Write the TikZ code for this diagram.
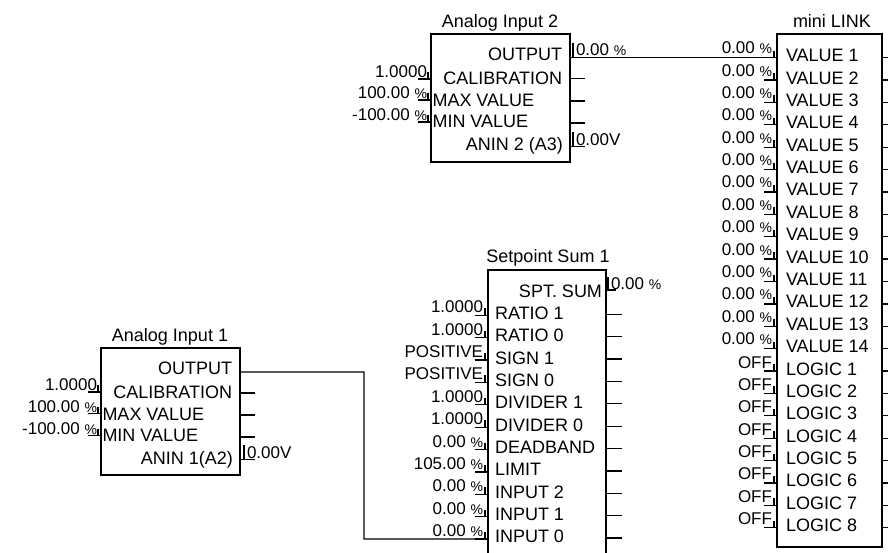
\documentclass[tikz,border=0pt]{standalone}
\usepackage{fontspec}
\setmainfont{Liberation Sans}
\newcommand{\mypct}{{\fontsize{14}{14}\selectfont\%}}
\tikzset{
  blk/.style={draw, line width=1.8pt, inner sep=0pt, outer sep=0pt, anchor=north west},
  wire/.style={line width=1.3pt},
  lbl/.style={inner sep=0pt, outer sep=0pt, font=\fontsize{18}{20}\selectfont},
  lblw/.style={lbl, anchor=base west},
  lble/.style={lbl, anchor=base east},
  ttl/.style={lbl, anchor=base},
  val/.style={inner sep=0pt, outer sep=0pt, font=\fontsize{17}{19}\selectfont, anchor=base east},
  outv/.style={inner sep=0pt, outer sep=0pt, font=\fontsize{17}{19}\selectfont, anchor=base west},
}
\begin{document}
\begin{tikzpicture}[x=1pt,y=-1pt]
\useasboundingbox (0,0) rectangle (888,552);
\fill[white] (0,0) rectangle (888,552);
\clip (0,0) rectangle (888,552);

% ---------- Analog Input 2 ----------
\begin{scope}[shift={(431,34)}]
  \node[blk, minimum width=139pt, minimum height=128pt] (ai2) at (0,0) {};
  \node[ttl] (ai2-t) at (69,-7) {Analog Input 2};
  \node[lble] (ai2-l0) at (131,26) {OUTPUT};
  \node[lble] (ai2-l1) at (131,50.5) {CALIBRATION};
  \node[lblw] (ai2-l2) at (1.5,72) {MAX VALUE};
  \node[lblw] (ai2-l3) at (1.5,93.5) {MIN VALUE};
  \node[lble] (ai2-l4) at (132,116) {ANIN 2 (A3)};
  \coordinate (ai2-out) at (139,23.7);
  \draw[wire] (142,9) -- (142,23.7);
  \node[outv] (ai2-v0) at (145,21.5) {0.00 \mypct};
  \foreach \p in {44.5,67,89,112.5} \draw[wire] (139,\p) -- (154,\p);
  \draw[wire] (142,98) -- (142,112.5);
  \node[outv] (ai2-v4) at (145,111) {0.00V};
  \foreach \p/\v [count=\k] in {45/1.0000, 66/100.00 \mypct, 88/-100.00 \mypct} {
    \draw[wire] (-13,\p) -- (0,\p);
    \draw[wire] (-3,\p-7) -- (-3,\p);
    \node[val] (ai2-i\k) at (-4,\p-1.5) {\v};
  }
\end{scope}

% ---------- Analog Input 1 ----------
\begin{scope}[shift={(101,348)}]
  \node[blk, minimum width=139pt, minimum height=127pt] (ai1) at (0,0) {};
  \node[ttl] (ai1-t) at (69,-7) {Analog Input 1};
  \node[lble] (ai1-l0) at (131,26.5) {OUTPUT};
  \node[lble] (ai1-l1) at (131,50.5) {CALIBRATION};
  \node[lblw] (ai1-l2) at (1.5,72) {MAX VALUE};
  \node[lblw] (ai1-l3) at (1.5,93.5) {MIN VALUE};
  \node[lble] (ai1-l4) at (132,116.5) {ANIN 1(A2)};
  \coordinate (ai1-out) at (139,24);
  \foreach \p in {45,67,89,111.5} \draw[wire] (139,\p) -- (154,\p);
  \draw[wire] (143,97) -- (143,111.5);
  \node[outv] (ai1-v4) at (146,110.5) {0.00V};
  \foreach \p/\v [count=\k] in {44/1.0000, 65.5/100.00 \mypct, 87.5/-100.00 \mypct} {
    \draw[wire] (-13,\p) -- (0,\p);
    \draw[wire] (-3,\p-7) -- (-3,\p);
    \node[val] (ai1-i\k) at (-4,\p-1.5) {\v};
  }
\end{scope}

% ---------- Setpoint Sum 1 ----------
\begin{scope}[shift={(488,270)}]
  \node[blk, minimum width=118pt, minimum height=330pt] (ss) at (0,0) {};
  \node[ttl] (ss-t) at (60,-8) {Setpoint Sum 1};
  \node[lble] (ss-l0) at (114,27) {SPT. SUM};
  \draw[wire] (118,20) -- (128,20);
  \draw[wire] (120,7) -- (120,20);
  \node[outv] (ss-v0) at (123,19) {0.00 \mypct};
  \foreach \lab/\v [count=\k] in {RATIO 1/1.0000, RATIO 0/1.0000, SIGN 1/POSITIVE, SIGN 0/POSITIVE,
      DIVIDER 1/1.0000, DIVIDER 0/1.0000, DEADBAND/0.00 \mypct, LIMIT/105.00 \mypct,
      INPUT 2/0.00 \mypct, INPUT 1/0.00 \mypct, INPUT 0/0.00 \mypct} {
    \pgfmathsetmacro\b{27+22.36*\k}
    \pgfmathsetmacro\p{\b-4}
    \pgfmathsetmacro\q{\b-5}
    \node[lblw] (ss-l\k) at (7,\b) {\lab};
    \coordinate (ss-in\k) at (0,\p);
    \draw[wire] (-13,\p) -- (0,\p);
    \draw[wire] (-3,\p-7) -- (-3,\p);
    \node[val] (ss-i\k) at (-5,\p-2.5) {\v};
    \draw[wire] (118,\q) -- (134,\q);
  }
\end{scope}

% ---------- miniLINK ----------
\begin{scope}[shift={(777,34)}]
  \node[blk, minimum width=105pt, minimum height=513pt] (ml) at (0,0) {};
  \node[ttl] (ml-t) at (55,-7) {mini LINK};
  \foreach \i in {0,...,21} {
    \pgfmathsetmacro\b{27.7+22.38*\i}
    \pgfmathsetmacro\p{\b-4}
    \pgfmathtruncatemacro\n{\i+1}
    \pgfmathtruncatemacro\m{\i-13}
    \coordinate (ml-in\i) at (0,\p);
    \draw[wire] (-13,\p) -- (0,\p);
    \draw[wire] (-3,\p-7) -- (-3,\p);
    \draw[wire] (105,\p) -- (115,\p);
    \ifnum\i<14
      \node[lblw] (ml-l\i) at (9,\b) {VALUE \n};
      \node[val] (ml-v\i) at (-5,\p-4) {0.00 \mypct};
    \else
      \node[lblw] (ml-l\i) at (9,\b) {LOGIC \m};
      \node[val] (ml-v\i) at (-5,\p-3) {OFF};
    \fi
  }
\end{scope}

% ---------- connections ----------
\coordinate (bend) at (364,539);
\draw[wire] (ai2-out) -- (ml-in0);
\draw[wire] (ai1-out) -| (bend) -- (ss-in11);
\end{tikzpicture}
\end{document}
